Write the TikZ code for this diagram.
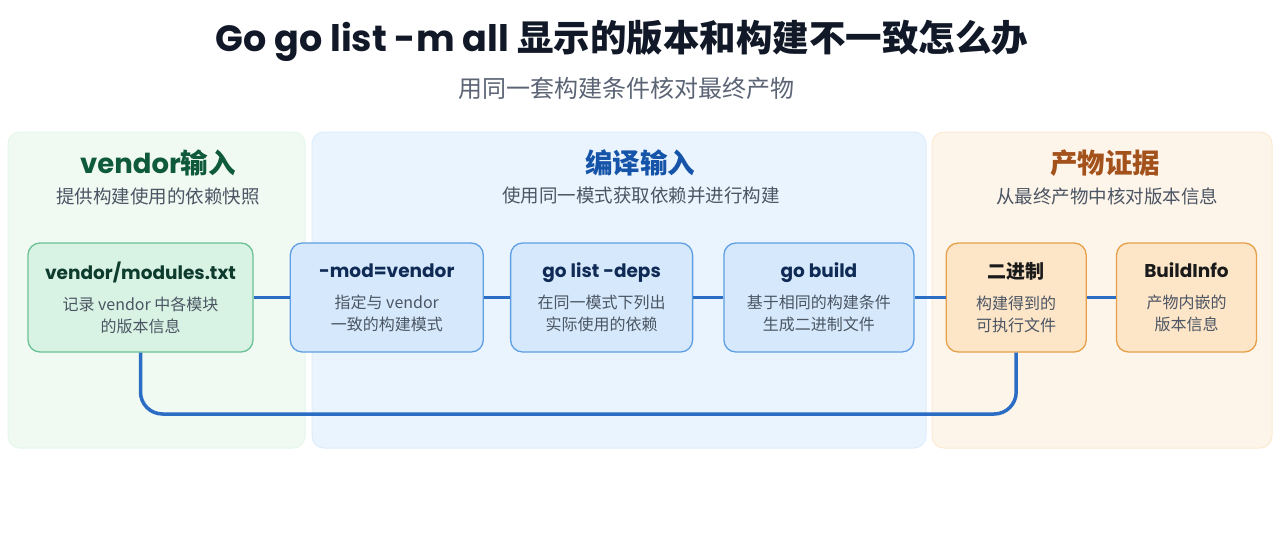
\documentclass[tikz,border=0pt]{standalone}
\usepackage{fontspec}
\setmainfont{Noto Sans CJK SC}
\newfontfamily\latfont{Poppins}
\usetikzlibrary{positioning, calc}

\definecolor{titleink}{HTML}{111827}
\definecolor{subink}{HTML}{5B6475}
\definecolor{descink}{HTML}{4B5563}
\definecolor{greenink}{HTML}{0D3B2E}
\definecolor{blueink}{HTML}{0F2A55}
\definecolor{brownink}{HTML}{1A1A1A}
\definecolor{greenhead}{HTML}{0E5A3A}
\definecolor{bluehead}{HTML}{1554A8}
\definecolor{brownhead}{HTML}{A4521C}
\definecolor{greenfill}{HTML}{D8F3E3}
\definecolor{greenline}{HTML}{6BC195}
\definecolor{bluefill}{HTML}{D6E9FC}
\definecolor{blueline}{HTML}{5E9EE3}
\definecolor{orangefill}{HTML}{FDE5C8}
\definecolor{orangeline}{HTML}{E6A04A}
\definecolor{greenpanel}{HTML}{F0FAF3}
\definecolor{bluepanel}{HTML}{EAF4FE}
\definecolor{orangepanel}{HTML}{FEF5EA}
\definecolor{linkblue}{HTML}{2B6CC4}

\newcommand{\cardhead}[1]{{\latfont\bfseries\fontsize{18.5}{22}\selectfont#1}}
\newcommand{\cardheadcjk}[1]{{\bfseries\fontsize{19}{22}\selectfont#1}}

\begin{document}
\begin{tikzpicture}[x=1pt, y=-1pt,
    panel/.style={rectangle, rounded corners=12pt, line width=1pt, inner sep=0pt,
                  minimum height=316pt},
    ptitle/.style={font=\bfseries\fontsize{27.5}{30}\selectfont},
    psub/.style={font=\fontsize{18.5}{22}\selectfont, text=descink},
    card/.style={rectangle, rounded corners=12pt, line width=1.3pt, minimum height=109pt,
                 align=center, inner sep=0pt, text=descink, font=\fontsize{16}{22}\selectfont},
    greencard/.style={card, draw=greenline, fill=greenfill},
    bluecard/.style={card, draw=blueline, fill=bluefill},
    orangecard/.style={card, draw=orangeline, fill=orangefill},
    link/.style={draw=linkblue, line width=3.5pt},
  ]
    \fill[white] (0,0) rectangle (1280,533);
    \useasboundingbox (0,0) rectangle (1280,533);

    % heading
    \node[text=titleink, font=\bfseries\fontsize{36.5}{40}\selectfont] (title) at (622,41)
      {{\latfont Go go list -m all} 显示的版本和构建不一致怎么办};
    \node[text=subink, font=\fontsize{24}{27}\selectfont] (subtitle) at (626,88)
      {用同一套构建条件核对最终产物};

    % three stages
    \node[panel, draw=greenfill!70, fill=greenpanel, minimum width=297pt] (pvendor) at (156.5,290) {};
    \node[panel, draw=bluefill!80, fill=bluepanel, minimum width=614pt] (pbuild) at (619,290) {};
    \node[panel, draw=orangefill!80, fill=orangepanel, minimum width=340pt] (pout) at (1102,290) {};

    \node[ptitle, text=greenhead] (tvendor) at (158,163) {{\latfont vendor}输入};
    \node[psub] (svendor) at (158,196) {提供构建使用的依赖快照};
    \node[ptitle, text=bluehead] (tbuild) at (640,163) {编译输入};
    \node[psub] (sbuild) at (641,196) {使用同一模式获取依赖并进行构建};
    \node[ptitle, text=brownhead] (tout) at (1105,163) {产物证据};
    \node[psub] (sout) at (1107,196) {从最终产物中核对版本信息};

    % cards
    \node[greencard, minimum width=225pt] (vmod) at (140.5,297.5)
      {\color{greenink}\cardhead{vendor/modules.txt}\\[9pt]记录 vendor 中各模块\\的版本信息};
    \node[bluecard, minimum width=193pt, right=36pt of vmod] (modflag)
      {\color{blueink}\cardhead{-mod=vendor}\\[9pt]指定与 vendor\\一致的构建模式};
    \node[bluecard, minimum width=182pt, right=26pt of modflag] (deps)
      {\color{blueink}\cardhead{go list -deps}\\[9pt]在同一模式下列出\\实际使用的依赖};
    \node[bluecard, minimum width=190pt, right=30pt of deps] (build)
      {\color{blueink}\cardhead{go build}\\[9pt]基于相同的构建条件\\生成二进制文件};
    \node[orangecard, minimum width=140pt, right=31pt of build] (bin)
      {\color{brownink}\cardheadcjk{二进制}\\[9pt]构建得到的\\可执行文件};
    \node[orangecard, minimum width=140pt, right=29pt of bin] (binfo)
      {\color{brownink}\cardhead{BuildInfo}\\[9pt]产物内嵌的\\版本信息};

    % connectors
    \draw[link] (vmod.east) -- (modflag.west);
    \draw[link] (modflag.east) -- (deps.west);
    \draw[link] (deps.east) -- (build.west);
    \draw[link] (build.east) -- (bin.west);
    \draw[link] (bin.east) -- (binfo.west);
    \coordinate (loopbase) at (600,414);
    \draw[link, rounded corners=22pt] (vmod.south) |- (loopbase) -| (bin.south);
  \end{tikzpicture}
\end{document}
